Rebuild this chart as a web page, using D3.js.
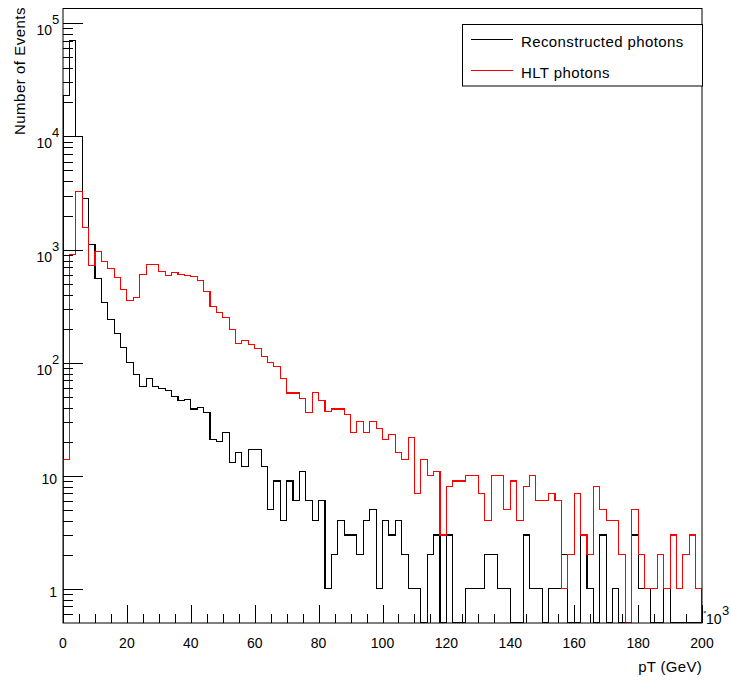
<!DOCTYPE html>
<html><head><meta charset="utf-8">
<script src="https://cdn.jsdelivr.net/npm/d3@7/dist/d3.min.js"></script>
<style>
body{margin:0;background:#fff}
text{font-family:"Liberation Sans",Arial,Helvetica,sans-serif;fill:#000}
</style>
</head><body>
<svg id="chart" width="731" height="680"></svg>
<script>
// ---- data (pT in units of 10^3, bins of width 2) ----
const binLowEdges = d3.range(0, 200, 2);
const binWidth = 2;
const recoCounts = [
 23000,71000,10000,2850,1100,555,338,240,180,136,
 101,79,62,73,62,59,57,50,46,47,
 39,40,36,21,20,24,13,16,12,17,
 17,12,5,9,4,9,6,11,6,4,
 6,1,2,4,3,3,2,4,5,1,
 4,3,4,2,1,1,0,2,3,0,
 3,0,0,1,1,1,2,2,1,1,
 0,0,3,1,1,0,1,1,2,0,
 0,3,1,0,3,0,1,0,0,3,
 1,1,0,0,1,0,0,0,0,0];
const hltCounts = [
 14,900,3240,1565,725,955,780,678,567,442,
 352,375,606,733,733,640,592,624,606,588,
 574,528,426,316,276,253,198,148,156,144,
 134,113,101,92,73,54,54,48,36,55,
 46,37,39,39,35,24,30,24,30,26,
 21,23,16,14,22,7,14,10,11,3,
 8,9,9,10,10,7,4,10,10,5,
 9,4,8,10,6,6,7,6,1,2,
 7,3,2,8,5,4,4,2,0,5,
 2,1,1,2,1,3,1,2,3,1];
const seriesNames = ["Reconstructed photons", "HLT photons"];
const seriesColors = ["#000000", "#ff0000"];
const xTickValues = [0,20,40,60,80,100,120,140,160,180,200];
const xMinorTickValues = d3.range(0, 201, 5).filter(v => v % 20 !== 0);
const yDecades = [1,10,100,1000,10000,100000];
const yDecadeLabels = [["1",""],["10",""],["10","2"],["10","3"],["10","4"],["10","5"]];
const xAxisTitle = "pT (GeV)";
const yAxisTitle = "Number of Events";
const xMultiplier = ["10","3"];

// ---- layout ----
const svg = d3.select("#chart");
const L = 63, R = 702, T = 8.5, B = 623;
const yMin = 0.5, yMax = 1.352e5;
const x = d3.scaleLinear().domain([0, 200]).range([L, R]);
const y = d3.scaleLog().domain([yMin, yMax]).range([B, T]);

svg.append("clipPath").attr("id","plotclip")
  .append("rect").attr("x",L).attr("y",T).attr("width",R-L).attr("height",B-T);

function histPoints(counts){
  const pts = [[binLowEdges[0], yMin]];
  counts.forEach((c,i) => {
    const v = Math.max(c, yMin);
    pts.push([binLowEdges[i], v]);
    pts.push([binLowEdges[i] + binWidth, v]);
  });
  pts.push([binLowEdges[binLowEdges.length-1] + binWidth, yMin]);
  return pts;
}
const line = d3.line().x(d => x(d[0])).y(d => y(d[1]));

const g = svg.append("g").attr("clip-path","url(#plotclip)");
[recoCounts, hltCounts].forEach((counts, k) => {
  g.append("path").attr("d", line(histPoints(counts)))
    .attr("fill","none").attr("stroke", seriesColors[k])
    .attr("stroke-width", 1.1).attr("shape-rendering","crispEdges");
});

// ---- frame ----
svg.append("rect").attr("x",L).attr("y",T).attr("width",R-L).attr("height",B-T)
  .attr("fill","none").attr("stroke","#000").attr("stroke-width",1);

// ---- y ticks ----
const yMinor = [];
for (let d = -1; d <= 5; d++) {
  for (let k = 2; k <= 9; k++) {
    const v = k * Math.pow(10, d);
    if (v > yMin && v < yMax) yMinor.push(v);
  }
}
svg.selectAll(".ymin").data(yMinor).enter().append("line")
  .attr("x1",L).attr("x2",L+10).attr("y1",d=>Math.round(y(d))+0.5).attr("y2",d=>Math.round(y(d))+0.5)
  .attr("stroke","#000");
svg.selectAll(".ymaj").data(yDecades).enter().append("line")
  .attr("x1",L).attr("x2",L+20).attr("y1",d=>Math.round(y(d))+0.5).attr("y2",d=>Math.round(y(d))+0.5)
  .attr("stroke","#000");
yDecades.forEach((d,i) => {
  const yy = y(d);
  const [base, ex] = yDecadeLabels[i];
  if (!ex) {
    svg.append("text").attr("x",57).attr("y",yy+8).attr("text-anchor","end")
      .attr("font-size",14).text(base);
  } else {
    svg.append("text").attr("x",52).attr("y",yy+12).attr("text-anchor","end")
      .attr("font-size",14).text(base);
    svg.append("text").attr("x",52).attr("y",yy+1)
      .attr("font-size",13).text(ex);
  }
});

// ---- x ticks ----
svg.selectAll(".xmin").data(xMinorTickValues).enter().append("line")
  .attr("x1",d=>Math.round(x(d))+0.5).attr("x2",d=>Math.round(x(d))+0.5).attr("y1",B).attr("y2",B-9)
  .attr("stroke","#000");
svg.selectAll(".xmaj").data(xTickValues).enter().append("line")
  .attr("x1",d=>Math.round(x(d))+0.5).attr("x2",d=>Math.round(x(d))+0.5).attr("y1",B).attr("y2",B-18)
  .attr("stroke","#000");
svg.selectAll(".xlab").data(xTickValues).enter().append("text")
  .attr("x",d=>x(d)).attr("y",648).attr("text-anchor","middle")
  .attr("font-size",14).text(d=>d);

// multiplier x10^3
svg.append("text").attr("x",703).attr("y",614).attr("font-size",6).text("×");
svg.append("text").attr("x",706).attr("y",624).attr("font-size",14).text(xMultiplier[0]);
svg.append("text").attr("x",722).attr("y",615).attr("font-size",13).text(xMultiplier[1]);

// ---- axis titles ----
svg.append("text").attr("x",R).attr("y",672).attr("text-anchor","end")
  .attr("font-size",15).attr("letter-spacing","0.3px").text(xAxisTitle);
svg.append("text").attr("transform","translate(24.5,7) rotate(-90)")
  .attr("text-anchor","end").attr("font-size",15).attr("letter-spacing","0.5px").text(yAxisTitle);

// ---- legend ----
const lg = svg.append("g");
lg.append("rect").attr("x",462.5).attr("y",24.5).attr("width",240).attr("height",61.5)
  .attr("fill","#fff").attr("stroke","#000");
const legY = [39, 70];
seriesNames.forEach((n,i) => {
  lg.append("line").attr("x1",471).attr("x2",513).attr("y1",legY[i]+0.5).attr("y2",legY[i]+0.5)
    .attr("stroke",seriesColors[i]).attr("stroke-width",1.1);
  lg.append("text").attr("x",521).attr("y",legY[i]+7.5).attr("font-size",15)
    .attr("letter-spacing","0.4px").text(n);
});
</script>
</body></html>
